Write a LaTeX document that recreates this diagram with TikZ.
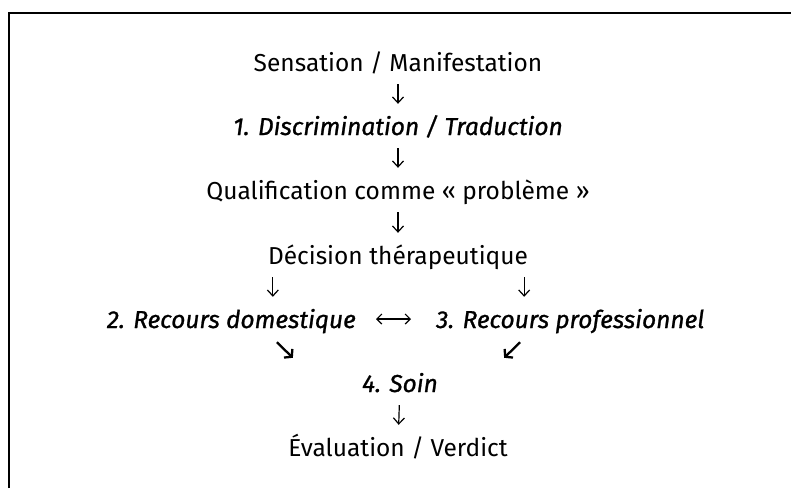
\documentclass[tikz,border=0pt]{standalone}
\usepackage{fontspec}
\setmainfont{Fira Sans}
\usetikzlibrary{positioning, calc, arrows.meta}

\tikzset{
  texte/.style={inner sep=0pt, text height=18pt, text depth=0pt, anchor=base,
    font=\fontsize{24.5}{29}\selectfont},
  etape/.style={texte, font=\fontsize{24.5}{29}\selectfont\itshape\addfontfeature{FakeBold=1}},
  fleche/.style={line width=1.2pt, -{Straight Barb[length=6pt,width=11pt]},
    shorten <=13pt, shorten >=13pt},
  fleche diag/.style={line width=2.3pt, line join=miter,
    -{Straight Barb[length=5pt,width=12pt]}},
  fleche double/.style={line width=1.2pt,
    {Straight Barb[length=5pt,width=10pt]}-{Straight Barb[length=5pt,width=10pt]},
    shorten <=20pt, shorten >=25pt},
}

\begin{document}
\begin{tikzpicture}[x=1pt, y=-1pt]
  \useasboundingbox (0,0) rectangle (791,488);
  % Cadre (haut et gauche)
  \draw[line width=2.3pt, line join=miter] (9,488) -- (9,13) -- (791,13);

  % Etapes
  \node[texte] (sens) at (398,71) {Sensation / Manifestation};
  \node[etape] (discr) at (398,135) {1. Discrimination / Traduction};
  \node[texte] (qualif) at (398,199) {Qualification comme « problème »};
  \node[texte] (decis) at (398,264) {Décision thérapeutique};
  \node[etape, anchor=base east] (domest) at (356,328) {2. Recours domestique};
  \node[etape, anchor=base west] (profess) at (436,328) {3. Recours professionnel};
  \node[etape] (soin) at (400,392) {4. Soin};
  \node[texte] (evalu) at (398,456) {Évaluation / Verdict};

  % Fleches
  \draw[fleche] (sens) -- (discr);
  \draw[fleche] (discr) -- (qualif);
  \draw[fleche] (qualif) -- (decis);
  \coordinate (gauche) at ([xshift=5pt]decis.south west);
  \coordinate (droite) at ([xshift=-4pt]decis.south east);
  \draw[fleche] (gauche) -- (gauche |- domest.north);
  \draw[fleche] (droite) -- (droite |- profess.north);
  \draw[fleche double] (domest.east) -- (profess.west);
  \draw[fleche diag] ($(gauche |- domest.south)+(4,14)$) -- ($(gauche |- soin.north)+(20,-16)$);
  \draw[fleche diag] ($(droite |- profess.south)+(-4,14)$) -- ($(droite |- soin.north)+(-20,-16)$);
  \draw[fleche] (soin) -- (evalu);
\end{tikzpicture}
\end{document}
